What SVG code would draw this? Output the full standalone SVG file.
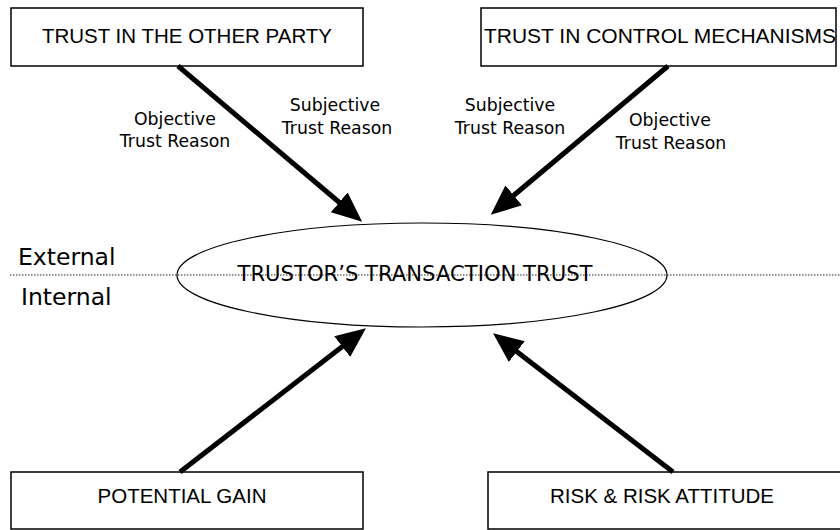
<svg xmlns="http://www.w3.org/2000/svg" width="840" height="530" viewBox="0 0 840 530">
<style>
.box{fill:#fff;stroke:#000;stroke-width:1.5}
.title{font-family:"Liberation Sans",Arial,sans-serif;font-size:20.5px;fill:#000;text-anchor:middle}
.lbl{font-family:"DejaVu Sans","Liberation Sans",sans-serif;font-size:17.3px;fill:#000;text-anchor:middle}
.side{font-family:"DejaVu Sans","Liberation Sans",sans-serif;font-size:23.5px;fill:#000}
.arrow{stroke:#000;stroke-width:5;fill:none;marker-end:url(#head)}
</style>
<defs>
<marker id="head" markerUnits="userSpaceOnUse" viewBox="0 0 30 26" markerWidth="30" markerHeight="26" refX="1" refY="13" orient="auto">
<path d="M0,0 L30,13 L0,26 z" fill="#000"/>
</marker>
</defs>
<rect width="840" height="530" fill="#fff"/>
<g id="divider">
<line x1="10" y1="275" x2="840" y2="275" stroke="#222" stroke-width="1" stroke-dasharray="1.5,1.5"/>
<text class="side" x="18" y="265">External</text>
<text class="side" x="21" y="305">Internal</text>
</g>
<g id="node-other-party">
<rect class="box" x="11" y="8" width="352" height="58"/>
<text class="title" x="187" y="43">TRUST IN THE OTHER PARTY</text>
</g>
<g id="node-control">
<rect class="box" x="481" y="8" width="355" height="58"/>
<text class="title" x="660" y="43" textLength="352" lengthAdjust="spacingAndGlyphs">TRUST IN CONTROL MECHANISMS</text>
</g>
<g id="node-trust">
<ellipse cx="422" cy="275" rx="245" ry="52" fill="none" stroke="#000" stroke-width="1.2"/>
<text x="415" y="281" font-family="'DejaVu Sans','Liberation Sans',sans-serif" font-size="21px" text-anchor="middle" textLength="355" lengthAdjust="spacingAndGlyphs">TRUSTOR’S TRANSACTION TRUST</text>
</g>
<g id="node-gain">
<rect class="box" x="11" y="472" width="352" height="57"/>
<text class="title" x="182" y="503">POTENTIAL GAIN</text>
</g>
<g id="node-risk">
<rect class="box" x="488" y="472" width="360" height="57"/>
<text class="title" x="662" y="503">RISK &amp; RISK ATTITUDE</text>
</g>
<g id="connectors">
<line class="arrow" x1="178" y1="66" x2="340" y2="203"/>
<line class="arrow" x1="668" y1="66" x2="513" y2="196"/>
<line class="arrow" x1="180" y1="472" x2="343" y2="346"/>
<line class="arrow" x1="673" y1="472" x2="516" y2="351"/>
</g>
<g id="labels">
<text class="lbl" x="175" y="125">Objective</text>
<text class="lbl" x="175" y="147">Trust Reason</text>
<text class="lbl" x="335" y="111">Subjective</text>
<text class="lbl" x="337" y="134">Trust Reason</text>
<text class="lbl" x="510" y="111">Subjective</text>
<text class="lbl" x="510" y="134">Trust Reason</text>
<text class="lbl" x="670" y="126">Objective</text>
<text class="lbl" x="671" y="149">Trust Reason</text>
</g>
</svg>
